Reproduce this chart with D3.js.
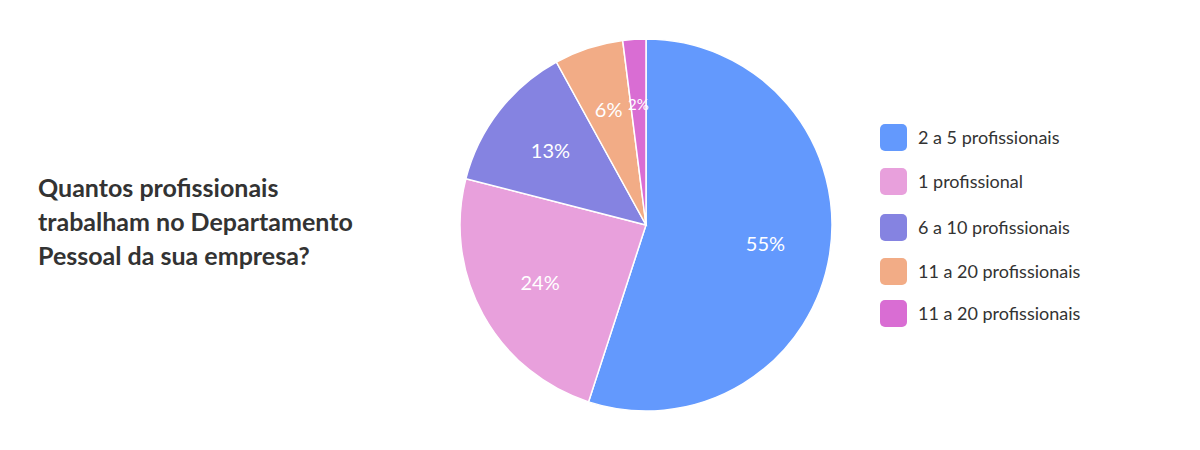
<!DOCTYPE html>
<html><head><meta charset="utf-8">
<script src="https://cdn.jsdelivr.net/npm/d3@7"></script>
<style>body{margin:0;background:#fff;font-family:Lato,"Open Sans",sans-serif;}</style>
</head><body>
<svg id="chart" width="1200" height="450"></svg>
<script>
var categories = ['2 a 5 profissionais', '1 profissional', '6 a 10 profissionais', '11 a 20 profissionais', '11 a 20 profissionais'];
var values = [55, 24, 13, 6, 2];
var colors = ['#6399fd', '#e8a0dc', '#8583e1', '#f2ac86', '#d96dd3'];
var titleLines = ['Quantos profissionais', 'trabalham no Departamento', 'Pessoal da sua empresa?'];

var svg = d3.select('#chart');
var cx = 646, cy = 225, radius = 186;

svg.selectAll('text.title')
  .data(titleLines)
  .enter().append('text')
  .attr('class', 'title')
  .attr('x', 38)
  .attr('y', (d, i) => 197 + i * 34)
  .attr('font-size', 25)
  .attr('font-weight', 'bold')
  .attr('fill', '#333')
  .text(d => d);

var pie = d3.pie().sort(null).value(d => d);
var arc = d3.arc().innerRadius(0).outerRadius(radius);
var labelArc = d3.arc().innerRadius(radius * 0.3).outerRadius(radius);

var chart = svg.append('g').attr('transform', 'translate(' + cx + ',' + cy + ')');
var slices = pie(values);

chart.selectAll('path')
  .data(slices)
  .enter().append('path')
  .attr('d', arc)
  .attr('fill', (d, i) => colors[i])
  .attr('stroke', '#fff')
  .attr('stroke-width', 1.5);

chart.selectAll('text')
  .data(slices)
  .enter().append('text')
  .attr('transform', d => 'translate(' + labelArc.centroid(d) + ')')
  .attr('text-anchor', 'middle')
  .attr('dy', '0.35em')
  .attr('fill', '#fff')
  .attr('font-size', d => d.data < 5 ? 15 : 20)
  .text(d => d.data + '%');

var legend = svg.append('g');
var rows = legend.selectAll('g')
  .data(categories)
  .enter().append('g')
  .attr('transform', (d, i) => 'translate(880,' + [124, 168, 214, 258, 300][i] + ')');
rows.append('rect')
  .attr('width', 27).attr('height', 27).attr('rx', 5)
  .attr('fill', (d, i) => colors[i]);
rows.append('text')
  .attr('x', 38).attr('y', 14).attr('dy', '0.35em')
  .attr('font-size', 18)
  .attr('fill', '#333')
  .text(d => d);
</script>
</body></html>
